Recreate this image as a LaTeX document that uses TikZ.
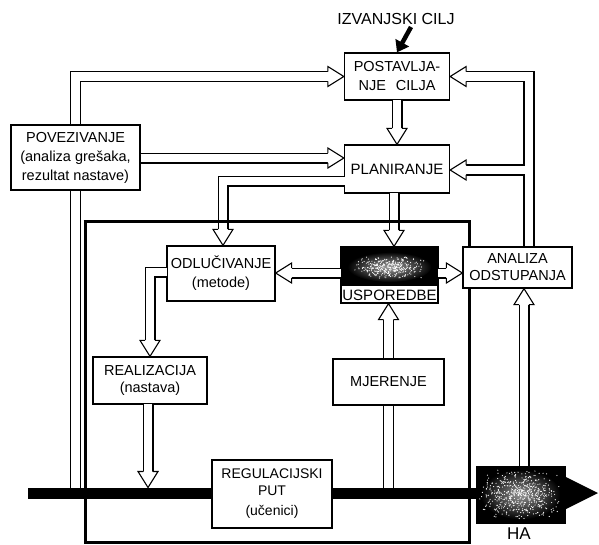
\documentclass[tikz,border=0pt]{standalone}
\usepackage{fontspec}
\setmainfont{Liberation Sans}
\usetikzlibrary{calc,arrows.meta}
\tikzset{
  hd/.pic={\filldraw[fill=white,line width=1.1pt] (-16,-4.95) -- (-16,-10) -- (0,0) -- (-16,10) -- (-16,4.95);},
  box/.style={draw,fill=white,line width=1.3pt,inner sep=0pt,align=center,font=\fontsize{14.5}{19}\selectfont},
  pipe/.style={line width=1.1pt,double=white,double distance=8.8pt},
  wall/.style={line width=1.1pt},
  frame/.style={line width=3pt}
}
\begin{document}
\begin{tikzpicture}[x=1pt,y=-1pt]
\useasboundingbox (0,0) rectangle (599,544);

% inner thick frame
\draw[frame] (85,221) rectangle (469,542);

% main line
\coordinate (ms) at (28,493);
\coordinate (me) at (566,493);
\coordinate (mtip) at (598,493);
\draw[line width=11pt] (ms) -- (me);
\fill ($(me)+(0,-16)$) -- (mtip) -- ($(me)+(0,16)$) -- cycle;

% boxes
\node[box,minimum width=105pt,minimum height=47pt] (post) at (397,76.5) {POSTAVLJA-\\NJE\hspace{10pt}CILJA};
\node[box,minimum width=105pt,minimum height=48pt,font=\fontsize{15}{19}\selectfont] (plan) at (397,169) {PLANIRANJE};
\node[box,minimum width=129pt,minimum height=65pt] (pov) at (75.5,157.5) {POVEZIVANJE\\(analiza grešaka,\\rezultat nastave)};
\node[box,minimum width=108pt,minimum height=55pt] (odl) at (221,273.5) {ODLUČIVANJE\\(metode)};
\node[box,minimum width=97pt,minimum height=56pt] (usp) at (389.5,275) {};
\node[box,minimum width=109pt,minimum height=41pt,font=\fontsize{14.5}{17}\selectfont] (anal) at (517.5,267.5) {ANALIZA\\ODSTUPANJA};
\node[box,minimum width=114pt,minimum height=47pt,font=\fontsize{14.5}{17}\selectfont] (real) at (150,380.5) {REALIZACIJA\\(nastava)};
\node[box,minimum width=111pt,minimum height=46pt] (mjer) at (388.5,382) {MJERENJE};
\node[box,minimum width=120pt,minimum height=68pt,font=\fontsize{14}{17}\selectfont] (reg) at (272,494) {REGULACIJSKI\\PUT\\[3pt](učenici)};
\node[draw,fill=black,minimum width=89pt,minimum height=57pt,inner sep=0pt] (ha) at (520.5,494.5) {};
\node[font=\fontsize{17}{17}\selectfont,inner sep=0pt] (halbl) at (519,533.5) {HA};

% USPOREDBE internals
\fill (usp.north west) rectangle ($(usp.east)+(0,11)$);
\shade[inner color=gray!75,outer color=black] ($(usp.center)+(0,-8)$) ellipse (42pt and 15pt);
\pgfmathsetseed{3}
\foreach \i in {1,...,320}{
  \pgfmathsetmacro\dx{(rand+rand)*19}
  \pgfmathsetmacro\dy{(rand+rand)*6}
  \fill[white] ($(usp.center)+(\dx,\dy-8)$) circle (0.6pt);
}
\node[font=\fontsize{15}{15}\selectfont,inner sep=0pt] (usplbl) at ($(usp.south)+(0,-8.5)$) {USPOREDBE};
\draw[line width=1.3pt] (usp.north west) rectangle (usp.south east);

% HA internals
\shade[inner color=gray!85,outer color=black] ($(ha.center)+(0,0)$) ellipse (40pt and 25pt);
\pgfmathsetseed{11}
\foreach \i in {1,...,520}{
  \pgfmathsetmacro\dx{(rand+rand)*21}
  \pgfmathsetmacro\dy{(rand+rand)*13}
  \fill[white] ($(ha.center)+(\dx,\dy)$) circle (0.6pt);
}

% pipes
\draw[pipe] ($(post.south)+(0,-0.7)$) -- ($(plan.north)+(0,-16)$);
\draw[pipe] ($(plan.south)+(-3,-0.7)$) -- ($(usp.north)+(4.5,-16)$);
\draw[pipe] ($(plan.west)+(0.7,12)$) -| ($(odl.north)+(2,-16)$);
\draw[pipe] ($(usp.west)+(0.7,-2)$) -- ($(odl.east)+(16,-0.5)$);
\draw[pipe] ($(usp.east)+(-0.7,-2)$) -- ($(anal.west)+(-16,5.5)$);
\draw[pipe] ($(odl.west)+(0.7,-1.5)$) -| ($(real.north)+(0,-16)$);
\coordinate (realin) at (148,487.5);
\draw[pipe] ($(real.south)+(-2,-0.7)$) -- ($(realin)+(0,-16)$);
\coordinate (mjin) at (388.5,487.5);
\draw[pipe] (mjin) -- (mjer.south);
\draw[pipe] (mjer.north) -- ($(usp.south)+(-1,16)$);
\draw[pipe] ($(ha.north)+(3.5,0)$) -- ($(anal.south)+(6.5,16)$);
\coordinate (povin) at (75.5,487.5);
\draw[pipe] (povin) -- (pov.south);
\draw[pipe] (pov.north) |- ($(post.west)+(-16,0)$);
\draw[pipe] ($(pov.east)+(0,0.5)$) -- ($(plan.west)+(-16,-11)$);

% right feedback walls
\draw[wall] ($(anal.north)+(16.5,0)$) |- ($(post.east)+(16,-5)$);
\draw[wall] ($(post.east)+(16,5)$) -| (524,165) -- ($(plan.east)+(16,-4)$);
\draw[wall] ($(plan.east)+(16,6)$) -| ($(anal.north)+(6.5,0)$);

% heads
\pic[rotate=-90] at (plan.north) {hd};
\pic[rotate=-90] at ($(usp.north)+(4.5,0)$) {hd};
\pic[rotate=-90] at ($(odl.north)+(2,0)$) {hd};
\pic[rotate=180] at ($(odl.east)+(0,-0.5)$) {hd};
\pic at ($(anal.west)+(0,5.5)$) {hd};
\pic[rotate=-90] at (real.north) {hd};
\pic[rotate=-90] at (realin) {hd};
\pic[rotate=90] at ($(usp.south)+(-1,0)$) {hd};
\pic[rotate=90] at ($(anal.south)+(6.5,0)$) {hd};
\pic at (post.west) {hd};
\pic at ($(plan.west)+(0,-11)$) {hd};
\pic[rotate=180] at (post.east) {hd};
\pic[rotate=180] at ($(plan.east)+(0,1)$) {hd};

% frame top edge over pipes
\draw[frame] (83.5,221) -- (470.5,221);

% external goal
\node[font=\fontsize{16}{16}\selectfont] (izv) at (396,19) {IZVANJSKI CILJ};
\coordinate (ia) at (411,27);
\draw[line width=4.5pt,-{Triangle[length=11pt,width=15pt]}] (ia) -- (post.north);
\end{tikzpicture}
\end{document}
